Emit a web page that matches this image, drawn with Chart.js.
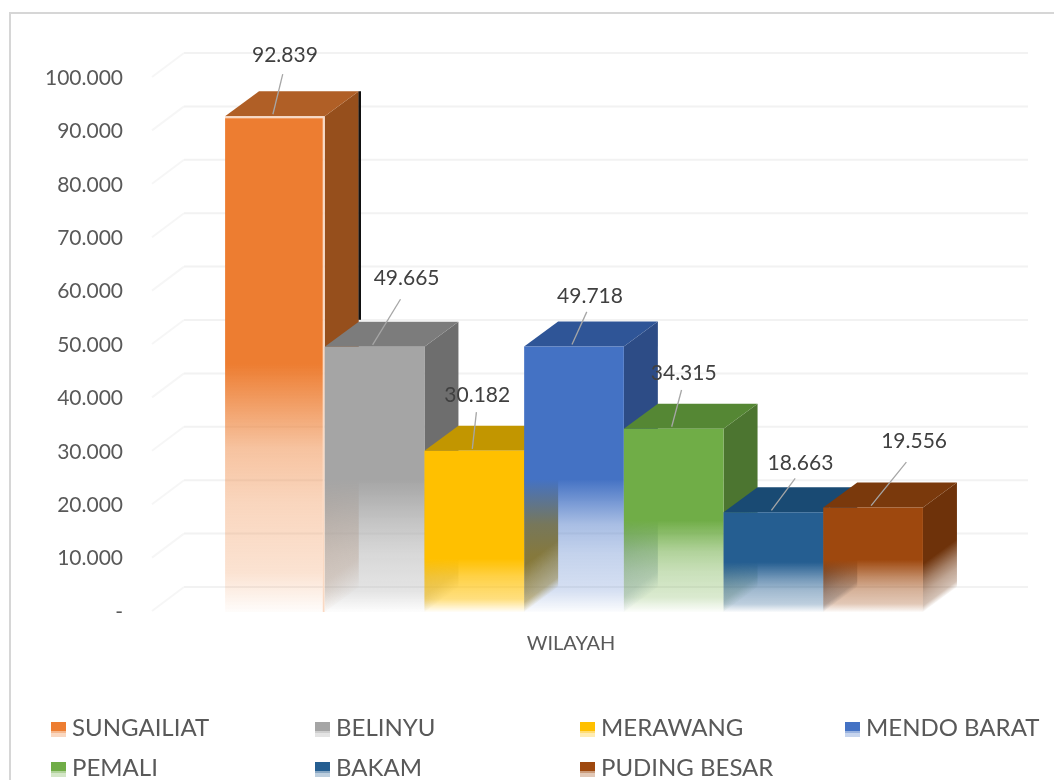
<!DOCTYPE html>
<html>
<head>
<meta charset="utf-8">
<script src="https://cdn.jsdelivr.net/npm/chart.js@4"></script>
<style>
html,body{margin:0;padding:0;background:#fff;width:1054px;height:780px;overflow:hidden;font-family:Lato,sans-serif}
#wrap{position:relative;width:1054px;height:780px}
#frame{position:absolute;left:9px;top:12px;width:1100px;height:800px;border:2px solid #d6d6d6;box-sizing:border-box}
canvas{position:absolute;left:0;top:0}
.lg{position:absolute;display:flex;align-items:center;height:24px;font-size:24px;color:#595959;white-space:nowrap}
.sw{display:inline-block;width:15px;height:15px;margin-right:6px;margin-top:7px}
</style>
</head>
<body>
<div id="wrap">
<div id="frame"></div>
<canvas id="c" width="1054" height="780"></canvas>
<div id="legend"></div>
</div>
<script>
const categories = ["WILAYAH"];
const seriesNames = ["SUNGAILIAT","BELINYU","MERAWANG","MENDO BARAT","PEMALI","BAKAM","PUDING BESAR"];
const seriesValues = [92839,49665,30182,49718,34315,18663,19556];
const frontColors = ["#ED7D31","#A5A5A5","#FFC000","#4472C4","#70AD47","#255E91","#9E480E"];
const sideColors  = ["#964F1C","#6E6E6E","#A37C00","#2D4C86","#4C7530","#1A4368","#6E320A"];
const topColors   = ["#B05F26","#7C7C7C","#C29600","#2F5597","#558734","#194A73","#7A390C"];
const paleAlpha   = [0.22,0.3,0.5,0.22,0.26,0.3,0.3];
const yTicks = [0,10000,20000,30000,40000,50000,60000,70000,80000,90000,100000];
const labelOffsets = [[12,-59],[34,-67],[5,-54],[18,-48],[12,-54],[29,-47],[43,-64]];

const DX = 34, DY = -25;
const rgba = (hex,a) => {
  const n = parseInt(hex.slice(1),16);
  return `rgba(${n>>16},${(n>>8)&255},${n&255},${a})`;
};
function fadeStops(g, hex, pale, start){
  g.addColorStop(0,rgba(hex,1));
  g.addColorStop(start,rgba(hex,1));
  g.addColorStop(start+0.17,rgba(hex,Math.min(1,pale*2.1)));
  g.addColorStop(start+0.28,rgba(hex,Math.min(1,pale*1.45)));
  g.addColorStop(Math.min(0.94,start+0.42),rgba(hex,pale));
  g.addColorStop(1,rgba(hex,0.02));
  return g;
}
function fade(ctx, hex, pale, top, bottom){
  return fadeStops(ctx.createLinearGradient(0,top,0,bottom), hex, pale, 0.5);
}
// side face: the fade runs across the receding bottom edge of the face
function sideFade(ctx, hex, pale, r, t, base){
  const len = Math.hypot(DX,DY), nx = -DY/len, ny = DX/len;
  const d = (base-t)*ny;
  return fadeStops(ctx.createLinearGradient(r,t,r+nx*d,t+ny*d), hex, pale, 0.54);
}
const fmt = v => v === 0 ? "-" : v.toLocaleString("de-DE");

const wall = {
  id:"wall",
  beforeDatasetsDraw(chart){
    const {ctx, scales:{y}, chartArea:a} = chart;
    ctx.save();
    ctx.lineWidth = 2;
    yTicks.forEach(t => {
      const p = y.getPixelForValue(t);
      ctx.strokeStyle = "#f6f6f6";
      ctx.beginPath();
      ctx.moveTo(a.left+2, p-1);
      ctx.lineTo(a.left+DX, p+DY);
      ctx.stroke();
      ctx.strokeStyle = "#f2f2f2";
      ctx.beginPath();
      ctx.moveTo(a.left+DX, p+DY);
      ctx.lineTo(a.right+DX-4, p+DY);
      ctx.stroke();
    });
    ctx.restore();
    // left-to-right painter's order: each bar's 3D faces, then the library's own bar
    seriesValues.forEach((v,i) => {
      const meta = chart.getDatasetMeta(i);
      const b = meta.data[0];
      const l = b.x - b.width/2, r = b.x + b.width/2, t = b.y, base = b.base;
      ctx.save();
      ctx.fillStyle = sideFade(ctx, sideColors[i], paleAlpha[i], r, t, base);
      ctx.beginPath();
      ctx.moveTo(r,t); ctx.lineTo(r+DX,t+DY); ctx.lineTo(r+DX,base+DY); ctx.lineTo(r,base);
      ctx.closePath(); ctx.fill();
      ctx.fillStyle = topColors[i];
      ctx.beginPath();
      ctx.moveTo(l,t); ctx.lineTo(l+DX,t+DY); ctx.lineTo(r+DX,t+DY); ctx.lineTo(r,t);
      ctx.closePath(); ctx.fill();
      if(i===0){
        const next = chart.getDatasetMeta(1).data[0];
        ctx.strokeStyle = "#111";
        ctx.lineWidth = 2.5;
        ctx.beginPath();
        ctx.moveTo(r+DX+1,t+DY);
        ctx.lineTo(r+DX+1,next.y+DY-2);
        ctx.stroke();
      }
      ctx.restore();
      meta.controller.draw();
    });
  },
  beforeDatasetDraw(){ return false; },
  afterDatasetsDraw(chart){
    const {ctx} = chart;
    ctx.save();
    ctx.font = "21px Lato";
    ctx.textAlign = "center";
    ctx.textBaseline = "middle";
    seriesValues.forEach((v,i) => {
      const b = chart.getDatasetMeta(i).data[0];
      const ax = b.x - 2, ay = b.y - 2;
      const [ox,oy] = labelOffsets[i];
      ctx.strokeStyle = "#a6a6a6";
      ctx.lineWidth = 1.3;
      ctx.beginPath();
      ctx.moveTo(ax,ay);
      ctx.lineTo(ax+ox*0.82,ay+oy*0.68);
      ctx.stroke();
      ctx.fillStyle = "#404040";
      ctx.fillText(fmt(v), ax+ox, ay+oy);
    });
    ctx.restore();
  }
};

const datasets = seriesNames.map((name,i) => ({
  label:name,
  data:[seriesValues[i]],
  backgroundColor:(c) => {
    const area = c.chart.chartArea;
    if(!area) return frontColors[i];
    const y = c.chart.scales.y;
    return fade(c.chart.ctx, frontColors[i], paleAlpha[i], y.getPixelForValue(seriesValues[i]), y.getPixelForValue(0));
  },
  borderColor: i===0 ? "#fad9c3" : "transparent",
  borderWidth: i===0 ? {top:2,right:2} : 0,
  barPercentage:1,
  categoryPercentage:0.823
}));

new Chart(document.getElementById("c"),{
  type:"bar",
  data:{labels:categories,datasets},
  plugins:[wall],
  options:{
    responsive:false,
    animation:false,
    events:[],
    layout:{padding:{top:78,right:56,left:0,bottom:0}},
    plugins:{legend:{display:false},tooltip:{enabled:false}},
    scales:{
      x:{
        grid:{display:false},
        border:{display:false},
        ticks:{color:"#595959",font:{family:"Lato",size:20},padding:12,labelOffset:-3,maxRotation:0},
        afterFit(s){ s.height = 168; }
      },
      y:{
        min:0,max:100000,
        afterBuildTicks(s){ s.ticks = yTicks.map(v => ({value:v})); },
        grid:{display:false},
        border:{display:false},
        ticks:{color:"#595959",font:{family:"Lato",size:21},padding:19,callback:fmt},
        afterFit(s){ s.width = 150; }
      }
    }
  }
});

// legend
const legendLeft = [51,315,580,845];
const legendTop = [714,754];
const box = document.getElementById("legend");
seriesNames.forEach((name,i) => {
  const el = document.createElement("div");
  el.className = "lg";
  el.style.left = legendLeft[i%4]+"px";
  el.style.top = legendTop[Math.floor(i/4)]+"px";
  const sw = document.createElement("span");
  sw.className = "sw";
  const c = frontColors[i];
  sw.style.background = `linear-gradient(${c} 0 9px, ${rgba(c,0.55)} 9px 11px, ${rgba(c,0.3)} 11px 15px)`;
  el.appendChild(sw);
  el.appendChild(document.createTextNode(name));
  box.appendChild(el);
});
</script>
</body>
</html>
